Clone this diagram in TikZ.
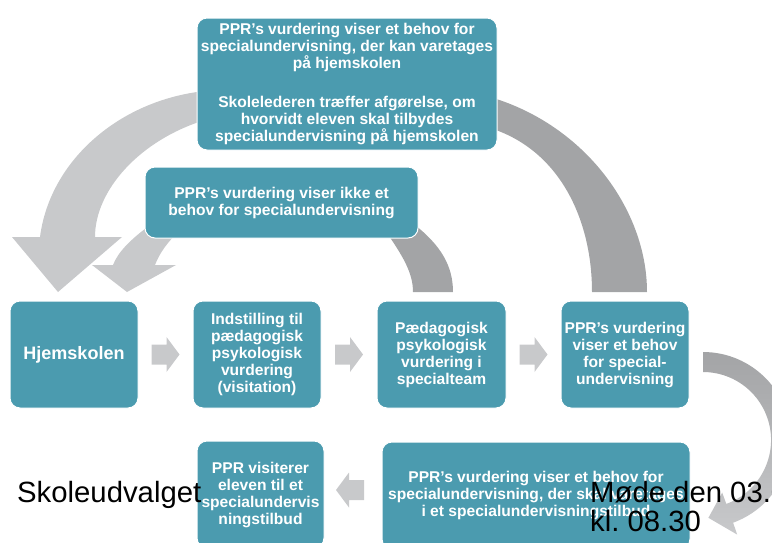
\documentclass[tikz,border=0pt]{standalone}
\usepackage{fontspec}
\setmainfont{Liberation Sans}
\usetikzlibrary{calc}
\definecolor{boxteal}{RGB}{75,155,175}
\definecolor{arrowlight}{RGB}{200,201,203}
\definecolor{arrowdark}{RGB}{163,164,166}
\tikzset{
  flowbox/.style={draw=white, line width=1pt, fill=boxteal, rounded corners=10pt,
    text=white, align=center, inner sep=2pt,
    font=\bfseries\fontsize{15.6}{17}\selectfont},
  lightarrow/.style={fill=arrowlight},
  darkarrow/.style={fill=arrowdark},
  notetext/.style={text=black, inner sep=0pt, anchor=base west,
    font=\fontsize{29.3}{29}\selectfont}
}
\newcommand{\flownode}[5]{\node [flowbox, minimum width=#3, minimum height=#4] (#1) at (#2) {#5}}
\newcommand{\chevron}[2]{\fill[lightarrow, shift={(#1)}, xscale=#2] (-14,-10) -- ++(15,0) -- ++(0,-7.5) -- ++(13,17.5) -- ++(-13,17.5) -- ++(0,-7.5) -- ++(-15,0) -- cycle}

\begin{document}
\begin{tikzpicture}[x=1pt, y=-1pt]
\useasboundingbox (0,0) rectangle (772,542);
\clip (0,0) rectangle (772,542);

% curved arrows behind the boxes
\fill[lightarrow] (205,91) .. controls (120,100) and (50,160) .. (40,237) -- (12,237) -- (58,292) -- (122,237) -- (95,237) .. controls (95,190) and (140,140) .. (205,120) -- cycle;
\fill[lightarrow] (150,225) .. controls (130,240) and (118,252) .. (113,265) -- (92,265) -- (127,292) -- (176,265) -- (155,265) .. controls (160,252) and (168,242) .. (178,232) -- cycle;
\fill[darkarrow] (385,230) .. controls (402,255) and (413,272) .. (413,292) -- (453,292) .. controls (453,265) and (440,245) .. (415,225) -- cycle;
\fill[darkarrow] (490,97) .. controls (585,125) and (647,210) .. (647,292) -- (592,292) .. controls (592,220) and (560,150) .. (490,128) -- cycle;
\shade[top color=arrowdark, bottom color=arrowlight] (703,352) arc[start angle=-90, end angle=70, radius=88] -- (737.2,534.6) -- (708.4,517.8) -- (722.2,492.6) -- (726.3,503.9) arc[start angle=70, end angle=-90, radius=68] -- cycle;

\flownode{vurdhjem}{347,84}{300}{132}{PPR’s vurdering viser et behov for\\specialundervisning, der kan varetages\\på hjemskolen\\[22pt]Skolelederen træffer afgørelse, om\\hvorvidt eleven skal tilbydes\\specialundervisning på hjemskolen};
\flownode{ikke}{281.5,202.5}{273}{71}{PPR’s vurdering viser ikke et\\behov for specialundervisning};
\node [flowbox, minimum width=128, minimum height=107, font=\bfseries\fontsize{18}{20}\selectfont] (hjem) at (74,354.5) {Hjemskolen};
\flownode{indst}{257,354.5}{128}{107}{Indstilling til\\pædagogisk\\psykologisk\\vurdering\\(visitation)};
\flownode{paed}{441.5,354.5}{129}{107}{Pædagogisk\\psykologisk\\vurdering i\\specialteam};
\flownode{behov}{625,354.5}{128}{107}{PPR’s vurdering\\viser et behov\\for special-\\undervisning};
\flownode{tilbud}{536,495.5}{308}{107}{PPR’s vurdering viser et behov for\\specialundervisning, der skal varetages\\i et specialundervisningstilbud};
\flownode{visit}{260.5,494.5}{127}{107}{PPR visiterer\\eleven til et\\specialundervis\\ningstilbud};

\chevron{$(hjem.east)!0.5!(indst.west)$}{1};
\chevron{$(indst.east)!0.5!(paed.west)$}{1};
\chevron{$(paed.east)!0.5!(behov.west)$}{1};
\chevron{$(tilbud.west)!0.5!(visit.east)+(-3,-5)$}{-1};

\node [notetext] (udvalg) at (17,502) {Skoleudvalget};
\node [notetext, align=left] (moede) at (590,531) {Møde den 03.0\\kl.\ 08.30};

\end{tikzpicture}
\end{document}
